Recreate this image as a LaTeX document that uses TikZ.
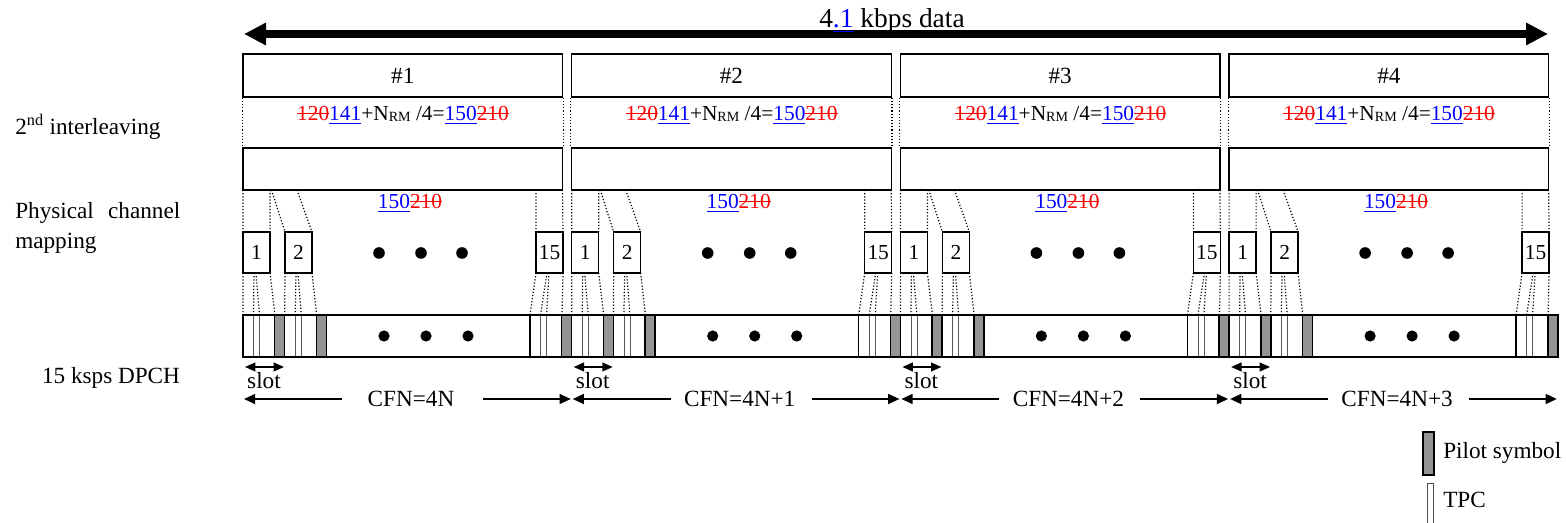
\documentclass[tikz,border=0pt]{standalone}
\usepackage{fontspec}
\setmainfont{Liberation Serif}
\usepackage{xcolor}
\usetikzlibrary{arrows.meta}

\newsavebox\valbox
\newcommand{\oldval}[1]{{\color{red}\sbox\valbox{#1}\rlap{\rule[0.28em]{\wd\valbox}{0.6pt}}\usebox\valbox}}
\newcommand{\newval}[1]{{\color{blue}\sbox\valbox{#1}\rlap{\rule[-2.6pt]{\wd\valbox}{0.6pt}}\usebox\valbox}}

\begin{document}
\begin{tikzpicture}[x=0.025cm,y=-0.025cm,
  every node/.style={font=\fontsize{16.5}{19}\selectfont},
  num/.style={font=\fontsize{15.2}{17}\selectfont},
  frbox/.style={draw,line width=1.1pt,minimum width=7.99cm,minimum height=1.075cm,inner sep=0pt},
  slotbox/.style={draw,line width=1.1pt,minimum width=0.675cm,minimum height=1.025cm,inner sep=0pt,num},
  dotline/.style={line width=0.85pt,dash pattern=on 0.85pt off 1.4pt},
  pilot/.style={draw,line width=1.1pt,fill=black!42},
  tpc/.style={line width=0.55pt,black!65},
  arr/.style={line width=1.1pt,-{Triangle[length=0.28cm,width=0.25cm]}},
  dbl/.style={line width=1.1pt,{Triangle[length=0.26cm,width=0.22cm]}-{Triangle[length=0.26cm,width=0.22cm]}}]
\useasboundingbox (0,0) rectangle (1566,523);

% data rate
\draw[line width=5pt,{Triangle[length=0.55cm,width=0.53cm]}-{Triangle[length=0.55cm,width=0.53cm]}] (244,34) -- (1548,34);
\node[anchor=base,font=\fontsize{19.5}{22}\selectfont] (rate) at (892,28) {4\newval{.1} kbps data};

% row labels
\node[anchor=west,inner xsep=0pt] (ilv) at (15,127) {2\textsuperscript{nd} interleaving};
\node[anchor=north west,inner xsep=0pt,align=left,font=\fontsize{16.5}{22}\selectfont] (pcm) at (15,197) {\makebox[4.125cm][s]{Physical channel}\\mapping};
\node (dpch) at (111,378) {15 ksps DPCH};

\foreach \k in {0,...,3}{
  \pgfmathsetmacro\X{243+328.7*\k}
  \pgfmathtruncatemacro\n{\k+1}
  % radio frames
  \node[frbox] (fr\k) at (\X+159.75,75.5) {\#\n};
  \node[frbox,minimum height=1.05cm] (il\k) at (\X+159.75,169) {};
  \draw[dotline] (fr\k.south west) -- (il\k.north west) (fr\k.south east) -- (il\k.north east);
  \node[num] (fm\k) at (\X+160,115) {\oldval{120}\newval{141}+N\raisebox{-1pt}{\fontsize{10}{10}\selectfont RM} /4=\newval{150}\oldval{210}};
  \node[num] (ml\k) at (\X+167,203) {\newval{150}\oldval{210}};
  % slots
  \node[slotbox] (sa\k) at (\X+13.5,252.5) {1};
  \node[slotbox] (sb\k) at (\X+55.5,252.5) {2};
  \node[slotbox] (sc\k) at (\X+306.5,252.5) {15};
  \draw[dotline] (\X,190) -- (\X,232) (\X+27,190) -- (\X+27,232)
    (\X+28.5,190) -- (\X+42,232) (\X+54,190) -- (\X+69,232)
    (\X+293,190) -- (\X+293,232) (\X+319.5,190) -- (\X+320,232);
  \foreach \d in {136,178,219} \fill (\X+\d,253) circle[radius=0.145cm];
  % DPCH slots
  \foreach \s/\b in {0/0,42/41.7,293/287}{
    \draw[dotline] (\X+\s,273) -- (\X+\b,315) (\X+\s+11,273) -- (\X+\b+10.5,315)
      (\X+\s+13,273) -- (\X+\b+16.5,315) (\X+\s+27,273) -- (\X+\b+32,315);
    \draw[line width=0.9pt] (\X+\b,315) rectangle (\X+\b+31.7,357);
    \draw[pilot] (\X+\b+31.7,315) rectangle (\X+\b+41.7,357);
    \draw[tpc] (\X+\b+10.5,315) -- (\X+\b+10.5,357) (\X+\b+16.5,315) -- (\X+\b+16.5,357);
  }
  \foreach \d in {141,183,225} \fill (\X+\d,336) circle[radius=0.14cm];
  % slot and CFN
  \draw[dbl] (\X+2,367) -- (\X+41,367);
  \node (sl\k) at (\X+21,381) {slot};
  \node (cf\k) at (\X+168,398.5) {CFN=4N\ifnum\k>0 +\k\fi};
  \draw[arr] (\X+99,399) -- (\X+1,399);
  \draw[arr] (\X+240,399) -- (\X+327.7,399);
}
\draw[line width=1.8pt] (243,315) rectangle (1557.8,357);

% legend
\draw[pilot,line width=1.3pt] (1423,432) rectangle (1434,475);
\node[anchor=west,inner xsep=0pt] (lpil) at (1443,453) {Pilot symbol};
\draw[line width=0.6pt,black!70] (1427,483) rectangle (1433,530);
\node[anchor=west,inner xsep=0pt] (ltpc) at (1443,500) {TPC};
\end{tikzpicture}
\end{document}
